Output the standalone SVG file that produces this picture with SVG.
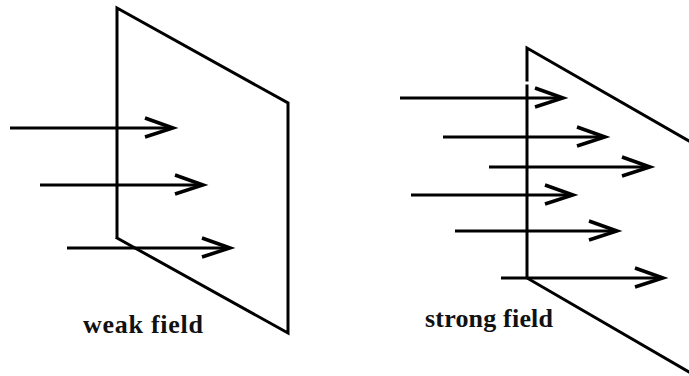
<svg xmlns="http://www.w3.org/2000/svg" width="689" height="376" viewBox="0 0 689 376">
<style>
.ln{fill:none;stroke:#000;stroke-width:3;stroke-linecap:square;stroke-linejoin:miter}
.ar{fill:none;stroke:#000;stroke-width:3}
.hd{fill:none;stroke:#000;stroke-width:3.5;stroke-linejoin:miter}
.lb{font-family:"Liberation Serif","Times New Roman",serif;font-weight:bold;font-size:26px;fill:#111}
</style>
<defs>
<path id="head" class="hd" d="M-28,-10 L0,0 L-28,9"/>
</defs>
<rect width="689" height="376" fill="#fff"/>
<g id="weak-plane">
<path class="ln" d="M117,237 L117,8 L288,103 L288,333 L117,238"/>
</g>
<g id="strong-plane">
<path class="ln" d="M527,80 L527,48 L689,141"/>
<path class="ln" d="M527,86 L527,278 L689,372"/>
</g>
<g id="connectors">
<line class="ar" x1="10" y1="128" x2="172" y2="128"/><use href="#head" x="173" y="128"/>
<line class="ar" x1="40" y1="185" x2="202" y2="185"/><use href="#head" x="203" y="185"/>
<line class="ar" x1="67" y1="248" x2="229" y2="248"/><use href="#head" x="230" y="248"/>
<line class="ar" x1="400" y1="98" x2="562" y2="98"/><use href="#head" x="563" y="98"/>
<line class="ar" x1="443" y1="137" x2="604" y2="137"/><use href="#head" x="605" y="137"/>
<line class="ar" x1="489" y1="167" x2="649" y2="167"/><use href="#head" x="650" y="167"/>
<line class="ar" x1="411" y1="195" x2="572" y2="195"/><use href="#head" x="573" y="195"/>
<line class="ar" x1="455" y1="231" x2="616" y2="231"/><use href="#head" x="617" y="231"/>
<line class="ar" x1="501" y1="278" x2="662" y2="278"/><use href="#head" x="663" y="278"/>
</g>
<g id="weak-label"><text class="lb" x="83" y="333" textLength="120">weak field</text></g>
<g id="strong-label"><text class="lb" x="425" y="327" textLength="128">strong field</text></g>
</svg>
